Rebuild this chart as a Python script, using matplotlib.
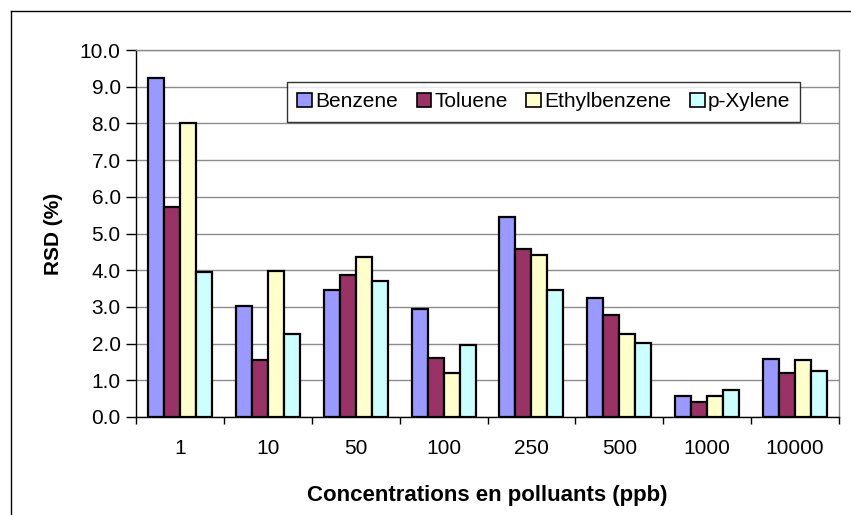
import matplotlib
matplotlib.use("Agg")
import matplotlib.pyplot as plt
from matplotlib.lines import Line2D
from matplotlib.patches import Patch
import numpy as np

categories = ["1", "10", "50", "100", "250", "500", "1000", "10000"]
series_names = ["Benzene", "Toluene", "Ethylbenzene", "p-Xylene"]
benzene = [9.24, 3.03, 3.46, 2.94, 5.46, 3.25, 0.56, 1.59]
toluene = [5.72, 1.54, 3.86, 1.60, 4.59, 2.79, 0.42, 1.19]
ethylbenzene = [8.00, 3.97, 4.37, 1.19, 4.42, 2.27, 0.56, 1.54]
pxylene = [3.96, 2.26, 3.71, 1.95, 3.45, 2.02, 0.73, 1.24]
colors = ["#9999FF", "#993366", "#FFFFCC", "#CCFFFF"]
yticks = [0.0, 1.0, 2.0, 3.0, 4.0, 5.0, 6.0, 7.0, 8.0, 9.0, 10.0]

plt.rcParams['font.family'] = ['Liberation Sans', 'DejaVu Sans']

W, H = 851, 515
fig = plt.figure(figsize=(W / 100, H / 100), dpi=100)
ax = fig.add_axes([136 / W, 1 - 417 / H, (839 - 136) / W, (417 - 50) / H])

data = [benzene, toluene, ethylbenzene, pxylene]
x = np.arange(len(categories))
bw = 0.182
for i, (vals, c, name) in enumerate(zip(data, colors, series_names)):
    ax.bar(x + (i - 1.5) * bw, vals, width=bw, color=c, edgecolor="black",
           linewidth=1.6, label=name, zorder=3)

ax.set_xlim(-0.5, len(categories) - 0.5)
ax.set_ylim(0, 10)
ax.set_yticks(yticks)
ax.set_yticklabels([f"{v:.1f}" for v in yticks], fontsize=15)
ax.yaxis.grid(True, color="#8c8c8c", linewidth=1.0, zorder=0)
ax.set_axisbelow(True)

ax.set_xticks(np.arange(-0.5, len(categories) + 0.5, 1.0))
ax.set_xticklabels([])
ax.set_xticks(x, minor=True)
ax.set_xticklabels(categories, minor=True, fontsize=15)
ax.tick_params(axis="x", which="minor", length=0, pad=16)
ax.tick_params(axis="x", which="major", length=5, width=1, direction="out")
ax.tick_params(axis="y", length=7, width=1, direction="out", pad=4)

for s in ["top", "right"]:
    ax.spines[s].set_color("#8c8c8c")
    ax.spines[s].set_linewidth(1.0)
for s in ["left", "bottom"]:
    ax.spines[s].set_color("black")
    ax.spines[s].set_linewidth(1.0)

ax.set_ylabel("RSD (%)", fontsize=15, fontweight="bold", labelpad=12)
ax.set_xlabel("Concentrations en polluants (ppb)", fontsize=16,
              fontweight="bold", labelpad=19)

handles = [Patch(facecolor=c, edgecolor="black", linewidth=1.2) for c in colors]
leg = ax.legend(handles, series_names, loc="upper left",
                bbox_to_anchor=((287 - 136) / (839 - 136), 1 - (82 - 50) / (417 - 50)),
                ncol=4, fontsize=15, frameon=True, fancybox=False,
                edgecolor="black", handlelength=0.7, handleheight=0.7,
                handletextpad=0.15, columnspacing=0.9, borderpad=0.5,
                borderaxespad=0)
leg.get_frame().set_linewidth(1.0)

fig.add_artist(Line2D([11 / W, 11 / W], [0, 1 - 11 / H], color="black", linewidth=1.0,
                      transform=fig.transFigure))
fig.add_artist(Line2D([11 / W, 1], [1 - 11 / H, 1 - 11 / H], color="black", linewidth=1.0,
                      transform=fig.transFigure))

fig.savefig("out.png", dpi=100)
